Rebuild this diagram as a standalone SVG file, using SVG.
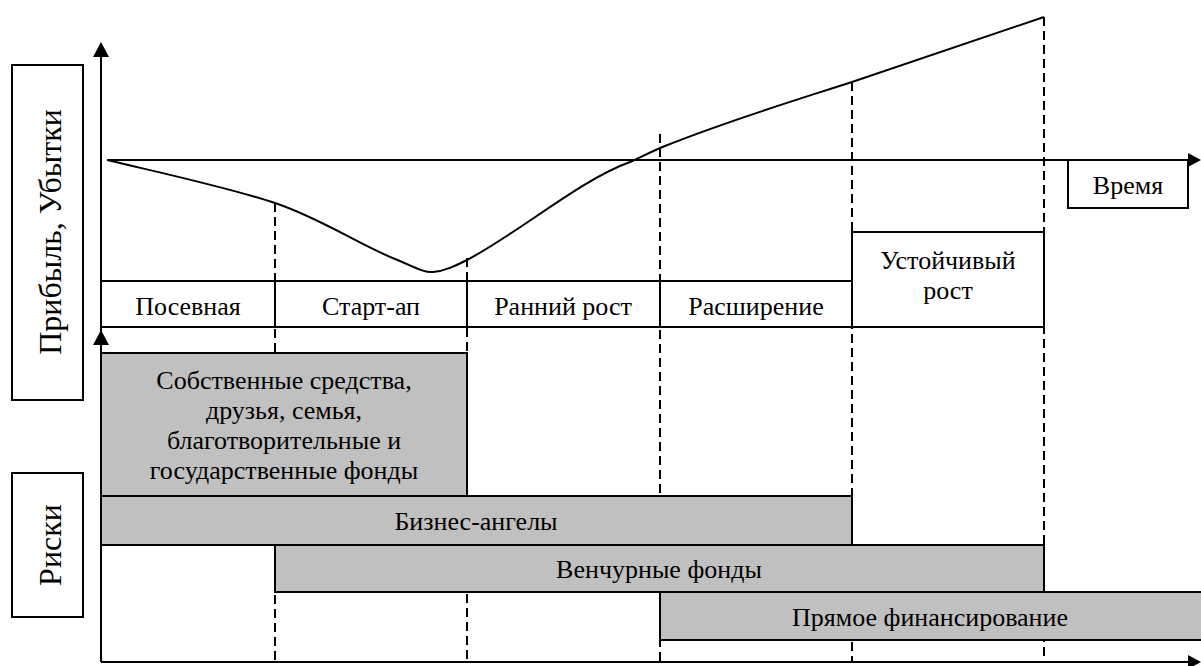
<svg xmlns="http://www.w3.org/2000/svg" width="1201" height="666" viewBox="0 0 1201 666">
<style>
text{font-family:"Liberation Serif","Times New Roman",serif;font-size:26px;fill:#000;text-anchor:middle}
.big{font-size:32px}
.box{fill:#fff;stroke:#000;stroke-width:2}
.gray{fill:#c0c0c0;stroke:#000;stroke-width:2}
.ln{fill:none;stroke:#000;stroke-width:2}
.dash{fill:none;stroke:#000;stroke-width:2;stroke-dasharray:9 5}
</style>
<rect width="1201" height="666" fill="#fff"/>
<g id="label-profit"><rect class="box" x="12" y="65" width="71" height="335"/><text class="big" transform="translate(61,232) rotate(-90)">Прибыль, Убытки</text></g>
<g id="label-risk"><rect class="box" x="12" y="473" width="71" height="144"/><text class="big" transform="translate(61,545) rotate(-90)">Риски</text></g>
<g id="connectors">
<line class="dash" x1="275" y1="203" x2="275" y2="662"/>
<line class="dash" x1="467" y1="258" x2="467" y2="662"/>
<line class="dash" x1="660" y1="134" x2="660" y2="662"/>
<line class="dash" x1="852" y1="82" x2="852" y2="662"/>
<line class="dash" x1="1044" y1="17" x2="1044" y2="662"/>
<line class="ln" x1="101" y1="662" x2="101" y2="50"/>
<polygon points="101,42 93,57 109,57"/>
<polygon points="101,330 93,345 109,345"/>
<line class="ln" x1="108" y1="160" x2="1192" y2="160"/>
<polygon points="1201,160 1188,153 1188,167"/>
<line class="ln" x1="101" y1="662" x2="1192" y2="662"/>
<polygon points="1201,662 1188,655 1188,669"/>
<path class="ln" d="M107,160 C170,175 230,188 275,203 C320,218 360,245 395,259 C415,267 424,273 433,272 C445,271 455,266 467,260 C520,232 580,180 630,162 C645,155 655,150 665,146 C730,120 790,102 852,82 L1044,17"/>
</g>
<g id="time"><rect class="box" x="1068" y="160" width="120" height="48"/><text x="1128" y="194">Время</text></g>
<g id="stage-seed"><rect class="box" x="101" y="281" width="174" height="46"/><text x="188" y="315">Посевная</text></g>
<g id="stage-startup"><rect class="box" x="275" y="281" width="192" height="46"/><text x="371" y="315">Старт-ап</text></g>
<g id="stage-early"><rect class="box" x="467" y="281" width="193" height="46"/><text x="563" y="315">Ранний рост</text></g>
<g id="stage-expansion"><rect class="box" x="660" y="281" width="192" height="46"/><text x="756" y="315">Расширение</text></g>
<g id="stage-sustained"><rect class="box" x="852" y="232" width="192" height="95"/><text x="948" y="269">Устойчивый</text><text x="948" y="299">рост</text></g>
<g id="own-funds"><rect class="gray" x="101" y="353" width="366" height="143"/><text x="284" y="389">Собственные средства,</text><text x="284" y="419">друзья, семья,</text><text x="284" y="449">благотворительные и</text><text x="284" y="479">государственные фонды</text></g>
<g id="angels"><rect class="gray" x="101" y="496" width="751" height="49"/><text x="476" y="530">Бизнес-ангелы</text></g>
<g id="venture"><rect class="gray" x="275" y="545" width="769" height="47"/><text x="659" y="578">Венчурные фонды</text></g>
<g id="direct"><rect class="gray" x="660" y="592" width="545" height="48"/><text x="930" y="626">Прямое финансирование</text></g>
</svg>
